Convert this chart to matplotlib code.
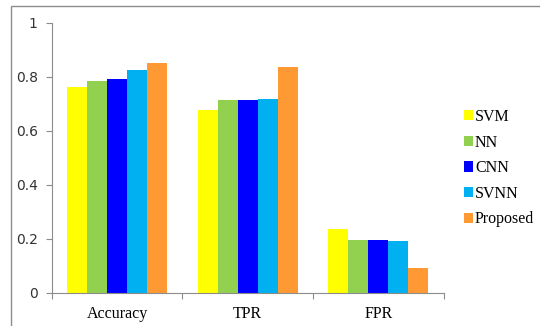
import numpy as np
import matplotlib.pyplot as plt
from matplotlib.patches import Rectangle

metrics = ["Accuracy", "TPR", "FPR"]
methods = ["SVM", "NN", "CNN", "SVNN", "Proposed"]
svm = [0.763, 0.677, 0.236]
nn = [0.783, 0.714, 0.196]
cnn = [0.793, 0.714, 0.196]
svnn = [0.826, 0.718, 0.192]
proposed = [0.851, 0.836, 0.094]
colors = ["#FFFF00", "#92D050", "#0000FF", "#00B0F0", "#FF9933"]

series = [svm, nn, cnn, svnn, proposed]

fig = plt.figure(figsize=(5.4, 3.26), dpi=100)
# chart area frame
fig.patches.append(Rectangle((11 / 540, -0.05), 1.0, 1 - 6 / 326 + 0.05,
                             transform=fig.transFigure, fill=False,
                             edgecolor="#8c8c8c", linewidth=1.0))

ax = fig.add_axes([51.7 / 540, 1 - 293 / 326, (443.7 - 51.7) / 540, (293 - 22.7) / 326])

x = np.arange(len(metrics)) + 0.5
bw = 0.153
for i, (vals, name, c) in enumerate(zip(series, methods, colors)):
    ax.bar(x + (i - 2) * bw, vals, bw, color=c, label=name, linewidth=0)

ax.set_xlim(0, 3)
ax.set_ylim(0, 1)
ax.set_yticks([0, 0.2, 0.4, 0.6, 0.8, 1.0])
ax.set_yticklabels(["0", "0.2", "0.4", "0.6", "0.8", "1"])
ax.set_xticks([0, 1, 2, 3])
ax.set_xticklabels([])
ax.set_xticks(x, minor=True)
ax.set_xticklabels(metrics, minor=True, family="Liberation Serif", fontsize=11.5)
ax.tick_params(axis="x", which="minor", length=0, pad=9)
ax.tick_params(axis="x", which="major", length=4, color="#8c8c8c")
ax.tick_params(axis="y", length=4, color="#8c8c8c", labelsize=10, labelcolor="#333333", pad=6)
for s in ["top", "right"]:
    ax.spines[s].set_visible(False)
for s in ["left", "bottom"]:
    ax.spines[s].set_color("#8c8c8c")

leg = ax.legend(loc="center left", bbox_to_anchor=(1.035, 0.462), frameon=False,
                prop={"family": "Liberation Serif", "size": 11.5},
                handlelength=0.6, handleheight=0.6, handletextpad=0.1,
                labelspacing=0.6, borderaxespad=0)

fig.savefig("out.png", dpi=100)
